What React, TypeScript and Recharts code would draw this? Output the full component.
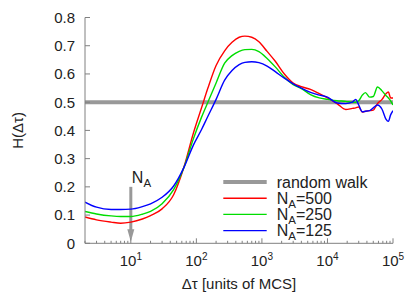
import React from 'react';
import { LineChart, Line, XAxis, YAxis, ReferenceLine, Legend } from 'recharts';

// ---- data ----
const dtau = [2, 3, 5, 7, 10, 15, 20, 30, 45, 65, 90, 120, 150, 200, 270, 350, 450, 550, 700, 900, 1200, 1600, 2200, 3000, 4000, 5500, 7500, 10000, 14000, 19000, 24000, 27000, 30000, 34000, 38000, 44000, 50000, 58000, 68000, 78000, 85000, 92000, 100000];
const hNA500 = [0.093, 0.083, 0.075, 0.071, 0.075, 0.086, 0.098, 0.122, 0.172, 0.272, 0.39, 0.48, 0.55, 0.63, 0.682, 0.712, 0.73, 0.734, 0.73, 0.714, 0.68, 0.645, 0.6, 0.568, 0.555, 0.545, 0.53, 0.515, 0.495, 0.474, 0.478, 0.48, 0.483, 0.465, 0.468, 0.47, 0.472, 0.495, 0.51, 0.53, 0.536, 0.515, 0.515];
const hNA250 = [0.113, 0.104, 0.097, 0.095, 0.095, 0.103, 0.113, 0.14, 0.19, 0.27, 0.37, 0.447, 0.5, 0.568, 0.638, 0.665, 0.68, 0.686, 0.687, 0.679, 0.655, 0.625, 0.588, 0.562, 0.548, 0.527, 0.515, 0.51, 0.505, 0.503, 0.5, 0.5, 0.505, 0.525, 0.534, 0.518, 0.52, 0.554, 0.54, 0.524, 0.515, 0.505, 0.49];
const hNA125 = [0.146, 0.128, 0.12, 0.12, 0.121, 0.13, 0.14, 0.163, 0.203, 0.27, 0.348, 0.403, 0.45, 0.51, 0.578, 0.612, 0.633, 0.641, 0.643, 0.64, 0.628, 0.608, 0.585, 0.565, 0.55, 0.535, 0.525, 0.518, 0.497, 0.495, 0.5, 0.51, 0.49, 0.466, 0.468, 0.47, 0.48, 0.49, 0.475, 0.44, 0.432, 0.455, 0.47];

const seriesNames = ['N_A=500', 'N_A=250', 'N_A=125'];
const seriesKeys = ['h500', 'h250', 'h125'];
const seriesColors = ['#ff0000', '#00dd00', '#0000ff'];
const randomWalkLabel = 'random walk';
const randomWalkLevel = 0.5;
const arrowLabel = 'N_A';
const arrowAt = 10;
const arrowFrom = 0.2;

const xMajorTicks = [10, 100, 1000, 10000, 100000];
const xMinorTicks = [2, 3, 4, 5, 6, 7, 8, 9, 20, 30, 40, 50, 60, 70, 80, 90, 200, 300, 400, 500, 600, 700, 800, 900, 2000, 3000, 4000, 5000, 6000, 7000, 8000, 9000, 20000, 30000, 40000, 50000, 60000, 70000, 80000, 90000];
const yTicks = [0, 0.1, 0.2, 0.3, 0.4, 0.5, 0.6, 0.7, 0.8];
const xTitle = 'Δτ [units of MCS]';
const yTitle = 'H(Δτ)';

const data = dtau.map((x, i) => ({ x, h500: hNA500[i], h250: hNA250[i], h125: hNA125[i] }));
const allXTicks = [...xMinorTicks, ...xMajorTicks].sort((a, b) => a - b);

// ---- styles ----
const FONT = 'Liberation Sans, Arial, Helvetica, sans-serif';
const TEXT = '#222';
const AXIS = '#808080';
const GRAY = '#999999';
const FS = 15;

const isMajor = (v: number) => xMajorTicks.includes(v);

function renderSubLabel(label: string, x: number, y: number, fs: number, anchor = 'start') {
  const m = label.match(/^(.*?)_(\w)(.*)$/);
  if (!m) {
    return <text x={x} y={y} fontSize={fs} fontFamily={FONT} fill={TEXT} textAnchor={anchor}>{label}</text>;
  }
  return (
    <text x={x} y={y} fontSize={fs} fontFamily={FONT} fill={TEXT} textAnchor={anchor}>
      <tspan>{m[1]}</tspan>
      <tspan dy={4} fontSize={fs * 0.72}>{m[2]}</tspan>
      <tspan dy={-4}>{m[3]}</tspan>
    </text>
  );
}

const BottomTick = (p: any) => {
  const { x, y, payload } = p;
  const major = isMajor(payload.value);
  const exp = Math.round(Math.log10(payload.value));
  return (
    <g>
      <line x1={x} x2={x} y1={y} y2={y - (major ? 5 : 2.5)} stroke={AXIS} strokeWidth={1} />
      {major && (
        <text x={x} y={y + 23} textAnchor="middle" fontSize={FS} fontFamily={FONT} fill={TEXT}>
          <tspan>10</tspan>
          <tspan dy={-6} fontSize={10}>{exp}</tspan>
        </text>
      )}
    </g>
  );
};

const TopTick = (p: any) => {
  const { x, y, payload } = p;
  const major = isMajor(payload.value);
  return <line x1={x} x2={x} y1={y} y2={y + (major ? 5 : 2.5)} stroke={AXIS} strokeWidth={1} />;
};

const LeftTick = (p: any) => {
  const { x, y, payload } = p;
  const v = payload.value;
  return (
    <g>
      <line x1={x} x2={x + 5} y1={y} y2={y} stroke={AXIS} strokeWidth={1} />
      <text x={x - 10} y={y} dy="0.36em" textAnchor="end" fontSize={FS} fontFamily={FONT} fill={TEXT}>
        {v === 0 ? '0' : v.toFixed(1)}
      </text>
    </g>
  );
};

const RightTick = (p: any) => {
  const { x, y } = p;
  return <line x1={x} x2={x - 5} y1={y} y2={y} stroke={AXIS} strokeWidth={1} />;
};

const ArrowShape = (p: any) => {
  const { x1, y1, x2, y2 } = p;
  const top = Math.min(y1, y2);
  const bottom = Math.max(y1, y2);
  const x = x1;
  const head = 14;
  return (
    <g>
      <line x1={x} x2={x} y1={top} y2={bottom - head + 1} stroke={GRAY} strokeWidth={3} />
      <polygon points={`${x - 3.5},${bottom - head} ${x + 3.5},${bottom - head} ${x},${bottom - 1.5}`} fill={GRAY} />
      {renderSubLabel(arrowLabel, x + 1, top - 3.5, 16)}
    </g>
  );
};

const legendItems = [
  { name: randomWalkLabel, color: GRAY, width: 4 },
  ...seriesNames.map((n, i) => ({ name: n, color: seriesColors[i], width: 1.4 })),
];

const LegendContent = () => (
  <svg width={180} height={70} style={{ display: 'block' }}>
    {legendItems.map((it, i) => {
      const cy = 10 + i * 16.2;
      return (
        <g key={it.name}>
          <line x1={8.3} x2={51.7} y1={cy} y2={cy} stroke={it.color} strokeWidth={it.width} />
          {renderSubLabel(it.name, 61.7, cy + 5.5, 16)}
        </g>
      );
    })}
  </svg>
);

const YTitle = (p: any) => {
  const vb = p.viewBox || {};
  const cx = vb.x + 18;
  const cy = vb.y + vb.height / 2;
  return (
    <text x={cx} y={cy} transform={`rotate(-90 ${cx} ${cy})`} textAnchor="middle" dy="0.36em" fontSize={FS} fontFamily={FONT} fill={TEXT}>
      {yTitle}
    </text>
  );
};

const XTitle = (p: any) => {
  const vb = p.viewBox || {};
  return (
    <text x={vb.x + vb.width / 2} y={vb.y + 46} textAnchor="middle" fontSize={FS} fontFamily={FONT} fill={TEXT}>
      {xTitle}
    </text>
  );
};

export default function App() {
  return (
    <div style={{ position: 'absolute', left: 0, top: 0, background: '#fff' }}>
      <LineChart width={415} height={299} data={data} margin={{ top: 17.5, right: 22, bottom: 0, left: 0 }}>
        <XAxis
          dataKey="x"
          type="number"
          scale="log"
          domain={[2, 100000]}
          allowDataOverflow
          ticks={allXTicks}
          interval={0}
          tick={<BottomTick />}
          tickLine={false}
          tickSize={0}
          tickMargin={0}
          height={55.7}
          axisLine={{ stroke: AXIS }}
          label={XTitle}
        />
        <XAxis
          xAxisId="top"
          orientation="top"
          dataKey="x"
          type="number"
          scale="log"
          domain={[2, 100000]}
          allowDataOverflow
          ticks={allXTicks}
          interval={0}
          tick={<TopTick />}
          tickLine={false}
          tickSize={0}
          tickMargin={0}
          height={0}
          axisLine={{ stroke: AXIS }}
        />
        <YAxis
          type="number"
          domain={[0, 0.8]}
          ticks={yTicks}
          interval={0}
          width={85}
          tick={<LeftTick />}
          tickLine={false}
          tickSize={0}
          tickMargin={0}
          axisLine={{ stroke: AXIS }}
          label={YTitle}
        />
        <YAxis
          yAxisId="right"
          orientation="right"
          type="number"
          domain={[0, 0.8]}
          ticks={yTicks}
          interval={0}
          width={0}
          tick={<RightTick />}
          tickLine={false}
          tickSize={0}
          tickMargin={0}
          axisLine={{ stroke: AXIS }}
        />
        <ReferenceLine y={randomWalkLevel} stroke={GRAY} strokeWidth={4} />
        <ReferenceLine
          segment={[{ x: arrowAt, y: arrowFrom }, { x: arrowAt, y: 0 }]}
          shape={ArrowShape}
        />
        {seriesKeys.map((k, i) => (
          <Line
            key={k}
            dataKey={k}
            name={seriesNames[i]}
            stroke={seriesColors[i]}
            strokeWidth={1.4}
            dot={false}
            type="monotone"
            isAnimationActive={false}
          />
        ))}
        <Legend
          layout="vertical"
          align="center"
          verticalAlign="middle"
          content={LegendContent}
          wrapperStyle={{ position: 'absolute', left: 215, top: 172, width: 180, height: 70 }}
        />
      </LineChart>
    </div>
  );
}
